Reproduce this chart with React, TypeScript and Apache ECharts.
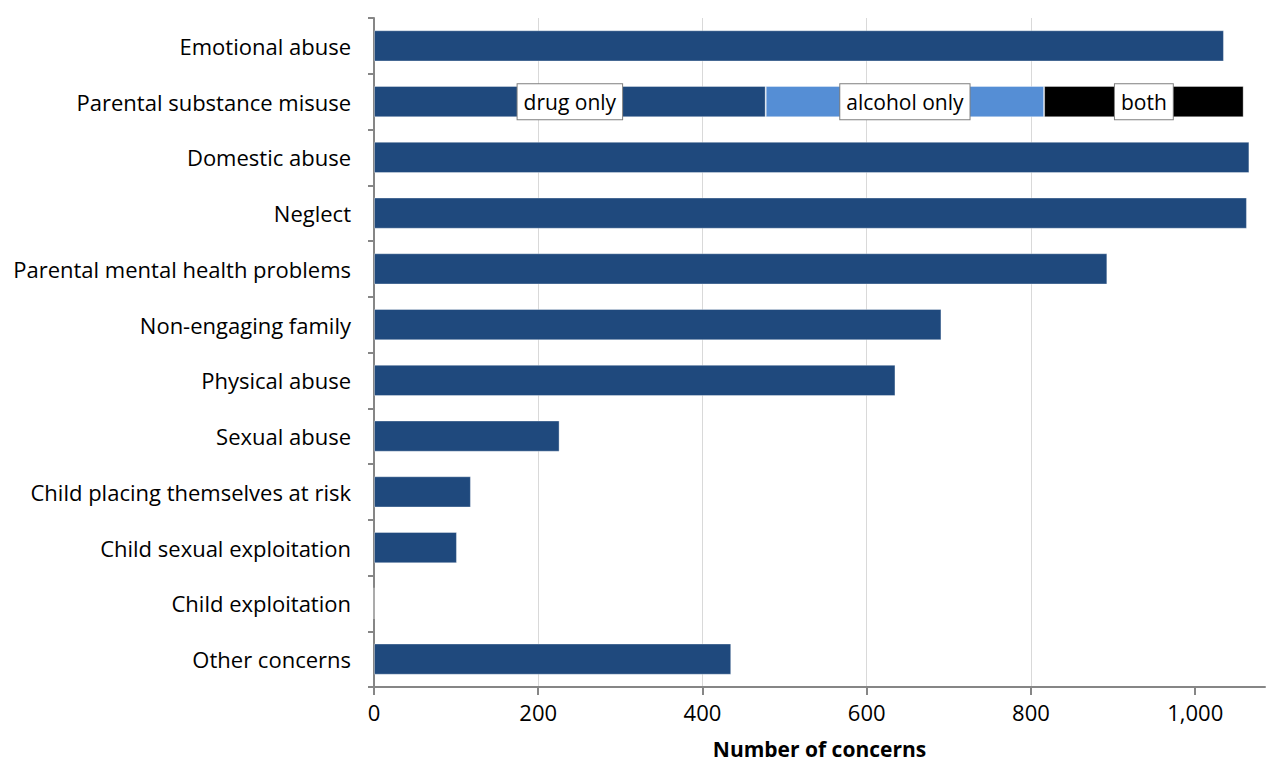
import React, { useEffect, useRef } from "react";
import * as echarts from "echarts";

const categories = [
  "Emotional abuse",
  "Parental substance misuse",
  "Domestic abuse",
  "Neglect",
  "Parental mental health problems",
  "Non-engaging family",
  "Physical abuse",
  "Sexual abuse",
  "Child placing themselves at risk",
  "Child sexual exploitation",
  "Child exploitation",
  "Other concerns",
];

// main bar values (for substance misuse row: "drug only")
const mainValues = [1035, 477, 1066, 1063, 893, 691, 635, 226, 118, 101, 0, 435];
const alcoholOnly = 339;
const both = 243;
const substanceIndex = 1;
const segmentLabels = ["drug only", "alcohol only", "both"];
const xTicks = [0, 200, 400, 600, 800, 1000];

const FONT = "Open Sans";

const boxLabel = (text: string) => ({
  show: true,
  position: "inside",
  formatter: text,
  color: "#000",
  fontFamily: FONT,
  fontSize: 21,
  lineHeight: 27,
  backgroundColor: "#fff",
  borderColor: "#7f7f7f",
  borderWidth: 1,
  padding: [4, 6, 4, 6],
});

export default function App() {
  const ref = useRef<HTMLDivElement>(null);
  useEffect(() => {
    if (!ref.current) return;
    const chart = echarts.init(ref.current, undefined, { renderer: "svg" });
    const mainData = mainValues.map((v, i) =>
      i === substanceIndex ? { value: v, label: boxLabel(segmentLabels[0]) } : v
    );
    const alcData = categories.map((_, i) =>
      i === substanceIndex ? { value: alcoholOnly, label: boxLabel(segmentLabels[1]) } : "-"
    );
    const bothData = categories.map((_, i) =>
      i === substanceIndex ? { value: both, label: boxLabel(segmentLabels[2]) } : "-"
    );
    const barBorder = { borderColor: "rgba(255,255,255,0.35)", borderWidth: 1 };
    chart.setOption({
      animation: false,
      grid: { left: 374, right: 1, top: 18, bottom: 76, containLabel: false, outerBoundsMode: "none" },
      xAxis: {
        type: "value",
        min: 0,
        max: 1085,
        interval: 200,
        name: "Number of concerns",
        nameLocation: "middle",
        nameGap: 51,
        nameTextStyle: { fontFamily: FONT, fontSize: 21, fontWeight: "bold", color: "#000" },
        axisLine: { show: true, lineStyle: { color: "#868686", width: 2 } },
        axisTick: { show: true, length: 8, customValues: xTicks, lineStyle: { color: "#868686", width: 2 } },
        axisLabel: {
          fontFamily: FONT,
          fontSize: 22,
          color: "#000",
          margin: 14,
          customValues: xTicks,
          formatter: (v: number) => v.toLocaleString("en-US"),
        },
        splitLine: { show: true, showMaxLine: false, lineStyle: { color: "#d9d9d9", width: 1 } },
      },
      yAxis: {
        type: "category",
        data: categories,
        inverse: true,
        axisLine: { show: true, lineStyle: { color: "#868686", width: 2 } },
        axisTick: { show: true, length: 6, lineStyle: { color: "#868686", width: 2 } },
        axisLabel: { fontFamily: FONT, fontSize: 22, color: "#000", margin: 23 },
        splitLine: { show: false },
      },
      series: [
        {
          type: "bar",
          stack: "t",
          barWidth: "56%",
          data: mainData,
          itemStyle: { color: "#1f497d", ...barBorder },
        },
        {
          type: "bar",
          stack: "t",
          barWidth: "56%",
          data: alcData,
          itemStyle: { color: "#558ed5", ...barBorder },
        },
        {
          type: "bar",
          stack: "t",
          barWidth: "56%",
          data: bothData,
          itemStyle: { color: "#000000", ...barBorder },
        },
      ],
    });
    return () => chart.dispose();
  }, []);
  return (
    <div
      ref={ref}
      style={{ position: "absolute", left: 0, top: 0, width: 1266, height: 763, background: "#fff" }}
    />
  );
}
